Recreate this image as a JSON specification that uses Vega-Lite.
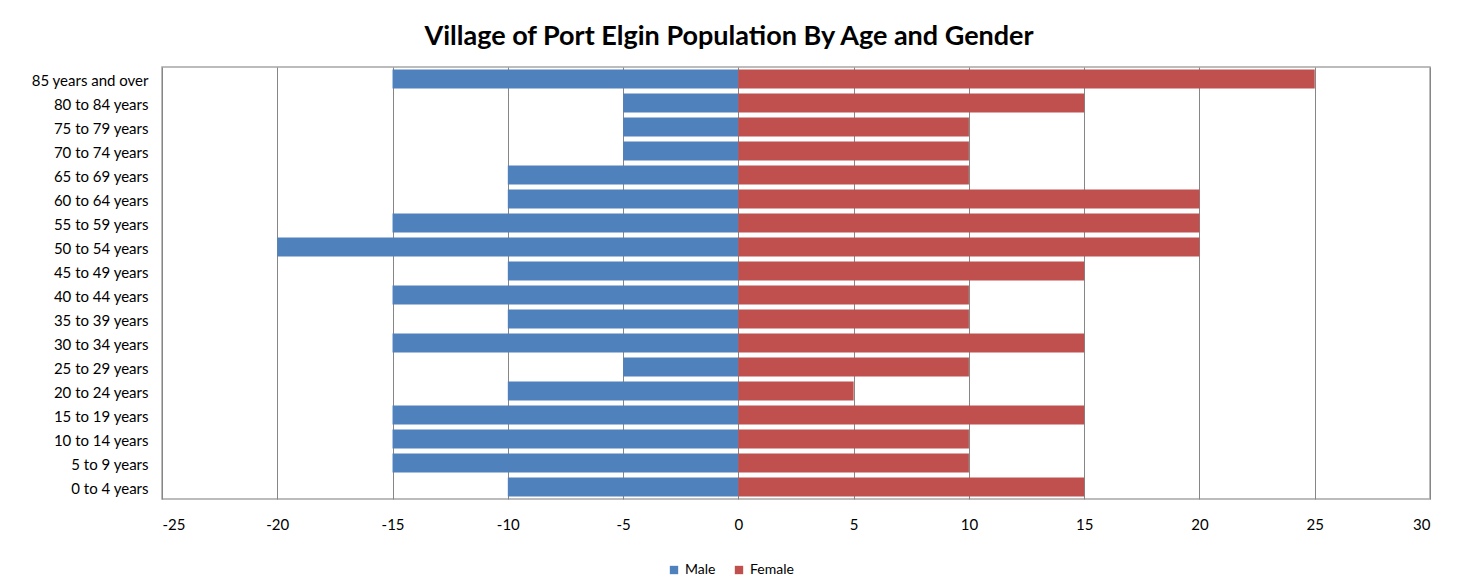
{
  "$schema": "https://vega.github.io/schema/vega-lite/v6.json",
  "width": 1268,
  "height": 432,
  "autosize": {"type": "none"},
  "padding": {"left": 162, "top": 67, "right": 31, "bottom": 89},
  "background": "white",
  "title": {
    "text": "Village of Port Elgin Population By Age and Gender",
    "font": "Lato",
    "fontSize": 27,
    "fontWeight": "bold",
    "color": "#000000",
    "anchor": "middle",
    "dx": -67,
    "offset": 16
  },
  "data": {
    "values": [
      {"age": "85 years and over", "gender": "Male", "value": -15},
      {"age": "85 years and over", "gender": "Female", "value": 25},
      {"age": "80 to 84 years", "gender": "Male", "value": -5},
      {"age": "80 to 84 years", "gender": "Female", "value": 15},
      {"age": "75 to 79 years", "gender": "Male", "value": -5},
      {"age": "75 to 79 years", "gender": "Female", "value": 10},
      {"age": "70 to 74 years", "gender": "Male", "value": -5},
      {"age": "70 to 74 years", "gender": "Female", "value": 10},
      {"age": "65 to 69 years", "gender": "Male", "value": -10},
      {"age": "65 to 69 years", "gender": "Female", "value": 10},
      {"age": "60 to 64 years", "gender": "Male", "value": -10},
      {"age": "60 to 64 years", "gender": "Female", "value": 20},
      {"age": "55 to 59 years", "gender": "Male", "value": -15},
      {"age": "55 to 59 years", "gender": "Female", "value": 20},
      {"age": "50 to 54 years", "gender": "Male", "value": -20},
      {"age": "50 to 54 years", "gender": "Female", "value": 20},
      {"age": "45 to 49 years", "gender": "Male", "value": -10},
      {"age": "45 to 49 years", "gender": "Female", "value": 15},
      {"age": "40 to 44 years", "gender": "Male", "value": -15},
      {"age": "40 to 44 years", "gender": "Female", "value": 10},
      {"age": "35 to 39 years", "gender": "Male", "value": -10},
      {"age": "35 to 39 years", "gender": "Female", "value": 10},
      {"age": "30 to 34 years", "gender": "Male", "value": -15},
      {"age": "30 to 34 years", "gender": "Female", "value": 15},
      {"age": "25 to 29 years", "gender": "Male", "value": -5},
      {"age": "25 to 29 years", "gender": "Female", "value": 10},
      {"age": "20 to 24 years", "gender": "Male", "value": -10},
      {"age": "20 to 24 years", "gender": "Female", "value": 5},
      {"age": "15 to 19 years", "gender": "Male", "value": -15},
      {"age": "15 to 19 years", "gender": "Female", "value": 15},
      {"age": "10 to 14 years", "gender": "Male", "value": -15},
      {"age": "10 to 14 years", "gender": "Female", "value": 10},
      {"age": "5 to 9 years", "gender": "Male", "value": -15},
      {"age": "5 to 9 years", "gender": "Female", "value": 10},
      {"age": "0 to 4 years", "gender": "Male", "value": -10},
      {"age": "0 to 4 years", "gender": "Female", "value": 15}
    ]
  },
  "mark": {"type": "bar"},
  "encoding": {
    "y": {
      "field": "age",
      "type": "nominal",
      "sort": null,
      "title": null,
      "scale": {"paddingInner": 0.2, "paddingOuter": 0.1},
      "axis": {
        "ticks": false,
        "domain": false,
        "grid": false,
        "labelFont": "Lato",
        "labelFontSize": 15,
        "labelColor": "#000000",
        "labelPadding": 14,
        "labelOffset": 2
      }
    },
    "x": {
      "field": "value",
      "type": "quantitative",
      "stack": null,
      "title": null,
      "scale": {"domain": [-25, 30], "nice": false},
      "axis": {
        "values": [-25, -20, -15, -10, -5, 0, 5, 10, 15, 20, 25, 30],
        "labelExpr": "'' + datum.value",
        "ticks": false,
        "domain": false,
        "grid": true,
        "gridColor": "#868686",
        "gridWidth": 1,
        "labelFont": "Lato",
        "labelFontSize": 15,
        "labelColor": "#000000",
        "labelPadding": 18
      }
    },
    "color": {
      "field": "gender",
      "type": "nominal",
      "sort": ["Male", "Female"],
      "scale": {"domain": ["Male", "Female"], "range": ["#4F81BD", "#C0504D"]},
      "legend": {
        "title": null,
        "orient": "none",
        "legendX": 505,
        "legendY": 496,
        "direction": "horizontal",
        "symbolType": "square",
        "symbolSize": 70,
        "symbolStrokeWidth": 0,
        "labelFont": "Lato",
        "labelFontSize": 14,
        "labelColor": "#000000",
        "columnPadding": 16
      }
    }
  },
  "config": {
    "view": {"stroke": "#A6A6A6", "strokeWidth": 1.5}
  }
}
